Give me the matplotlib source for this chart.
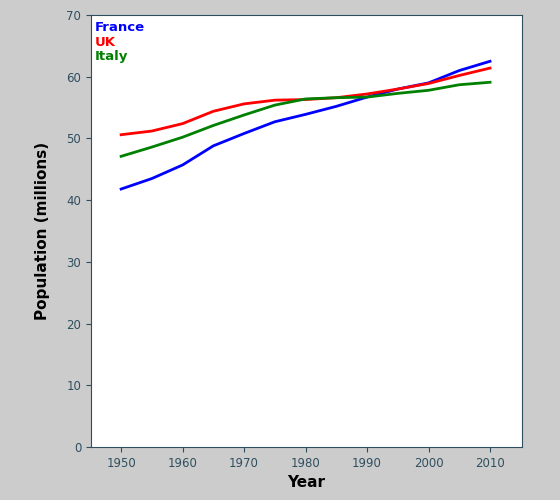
import matplotlib
matplotlib.use("Agg")
import matplotlib.pyplot as plt

years = [1950, 1955, 1960, 1965, 1970, 1975, 1980, 1985, 1990, 1995, 2000, 2005, 2010]
france = [41.8, 43.5, 45.7, 48.8, 50.8, 52.7, 53.9, 55.2, 56.7, 58.0, 59.0, 61.0, 62.5]
uk = [50.6, 51.2, 52.4, 54.4, 55.6, 56.2, 56.3, 56.6, 57.2, 58.0, 58.9, 60.2, 61.4]
italy = [47.1, 48.6, 50.2, 52.1, 53.8, 55.4, 56.4, 56.6, 56.7, 57.3, 57.8, 58.7, 59.1]
names = ["France", "UK", "Italy"]
colors = ["blue", "red", "green"]

fig = plt.figure(figsize=(5.6, 5.0), dpi=100, facecolor="#cccccc")
ax = fig.add_axes([91/560, 53/500, 431/560, 432/500], facecolor="white")
for s, c in zip([france, uk, italy], colors):
    ax.plot(years, s, color=c, lw=2)
ax.set_xlim(1945.1, 2015.2)
ax.set_ylim(0, 70)
ax.set_xticks(range(1950, 2011, 10))
ax.set_yticks(range(0, 71, 10))
tc = "#2f4f5f"
ax.tick_params(colors=tc, labelsize=8.5, labelcolor="#2f4f5f")
for sp in ax.spines.values():
    sp.set_color(tc)
ax.set_xlabel("Year", fontsize=11, fontweight="bold")
ax.set_ylabel("Population (millions)", fontsize=11, fontweight="bold", labelpad=12)
for i, (n, c) in enumerate(zip(names, colors)):
    ax.text(0.009, 0.985 - i*0.033, n, color=c, fontweight="bold", fontsize=9.5,
            transform=ax.transAxes, va="top", ha="left")
fig.savefig("out.png", dpi=100, facecolor=fig.get_facecolor())
